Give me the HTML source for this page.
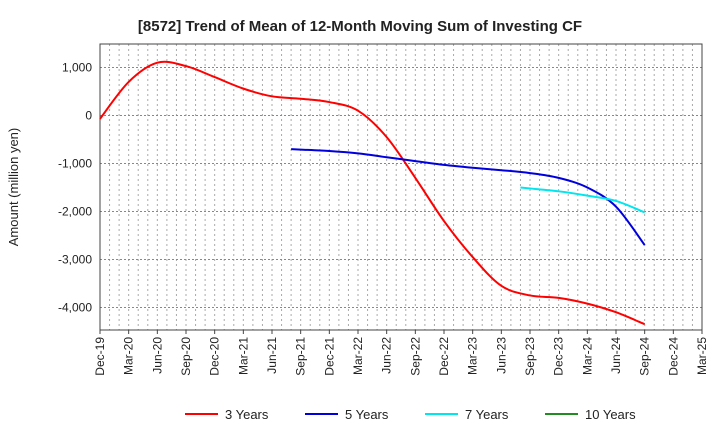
<!DOCTYPE html>
<html><head><meta charset="utf-8"><style>
body{margin:0;background:#fff;font-family:"Liberation Sans",sans-serif}
</style></head><body>
<svg id="c" width="720" height="440" xmlns="http://www.w3.org/2000/svg">
<text x="360" y="31" text-anchor="middle" font-size="15" font-weight="bold" fill="#222">[8572]  Trend of Mean of 12-Month Moving Sum of Investing CF</text>
<g id="grid"></g><g id="axes"></g><g id="series"></g><g id="legend"></g>
</svg>
<script>
const xLabels=["Dec-19","Mar-20","Jun-20","Sep-20","Dec-20","Mar-21","Jun-21","Sep-21","Dec-21","Mar-22","Jun-22","Sep-22","Dec-22","Mar-23","Jun-23","Sep-23","Dec-23","Mar-24","Jun-24","Sep-24","Dec-24","Mar-25"];
const yTicks=[1000,0,-1000,-2000,-3000,-4000];
const s3=[-70,700,1100,1030,800,560,400,350,280,100,-450,-1300,-2200,-2950,-3550,-3750,-3800,-3920,-4100,-4350];
const s5=[-700,-710,-740,-790,-870,-950,-1030,-1090,-1140,-1200,-1300,-1500,-1900,-2700];
const s7=[-1500,-1520,-1580,-1670,-1780,-2020];
const s10=[];
const L=100,R=702,T=44,B=330,yMax=1490,yMin=-4470;
const X=i=>L+(R-L)*i/21;
const Y=v=>T+(B-T)*(yMax-v)/(yMax-yMin);
const ns="http://www.w3.org/2000/svg";
function mk(t,a,p){const e=document.createElementNS(ns,t);for(const k in a)e.setAttribute(k,a[k]);p.appendChild(e);return e;}
const grid=document.getElementById('grid'),axes=document.getElementById('axes'),ser=document.getElementById('series'),leg=document.getElementById('legend');
for(let m=1;m<63;m++){const x=L+(R-L)*m/63;const g=mk('line',{x1:x,x2:x,y1:T,y2:B,stroke:'#aaa','stroke-dasharray':'2,3','stroke-width':1},grid);

}
yTicks.forEach(v=>{const y=Y(v);const g=mk('line',{x1:L,x2:R,y1:y,y2:y,stroke:'#888','stroke-dasharray':'2,2'},grid);


const t=mk('text',{x:L-8,y:y+4,'text-anchor':'end','font-size':12,fill:'#222'},axes);t.textContent=v.toLocaleString('en-US');

});
const fr=mk('rect',{x:L,y:T,width:R-L,height:B-T,fill:'none',stroke:'#444'},axes);


xLabels.forEach((l,i)=>{const x=X(i);mk('line',{x1:x,x2:x,y1:B,y2:B+4,stroke:'#444'},axes);
const t=mk('text',{transform:`translate(${x+4},${B+7}) rotate(-90)`,'text-anchor':'end','font-size':12,fill:'#222'},axes);t.textContent=l;

});
const yt=mk('text',{transform:`translate(18,${(T+B)/2}) rotate(-90)`,'text-anchor':'middle','font-size':13,fill:'#222'},axes);yt.textContent='Amount (million yen)';


function path(vals,start,lead){const p=vals.map((v,i)=>{const q=lead?(i===0?start-1/3:start+i-1):start+i;return [X(q),Y(v)];});if(p.length<2)return '';let d=`M${p[0][0]},${p[0][1]}`;
for(let i=0;i<p.length-1;i++){const p0=p[i-1]||p[i],p1=p[i],p2=p[i+1],p3=p[i+2]||p2;
d+=`C${p1[0]+(p2[0]-p0[0])/6},${p1[1]+(p2[1]-p0[1])/6} ${p2[0]-(p3[0]-p1[0])/6},${p2[1]-(p3[1]-p1[1])/6} ${p2[0]},${p2[1]}`;}return d;}
const S=[[s3,0,false,'#ff0000','3 Years','line-3-years'],[s5,7,true,'#0000dd','5 Years','line-5-years'],[s7,15,true,'#00e5ee','7 Years','line-7-years'],[s10,19,false,'#228b22','10 Years','line-10-years']];
S.forEach(([v,st,ld,c,n,dn],k)=>{const d=path(v,st,ld);if(d){const e=mk('path',{d,fill:'none',stroke:c,'stroke-width':2},ser);

}
const lx=[185,305,425,545][k];const g=mk('g',{},leg);


mk('line',{x1:lx,x2:lx+33,y1:414,y2:414,stroke:c,'stroke-width':2},g);
const t=mk('text',{x:lx+40,y:419,'font-size':13,fill:'#222'},g);t.textContent=n;});
</script>
</body></html>
